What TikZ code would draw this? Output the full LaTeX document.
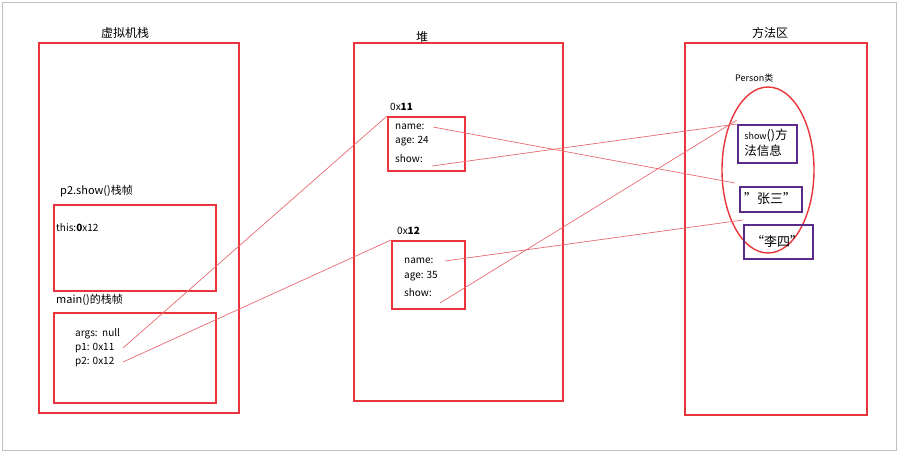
\documentclass[tikz,border=0pt]{standalone}
\usepackage{fontspec}
\setmainfont{Noto Sans CJK SC}
\usetikzlibrary{shapes.geometric}
\definecolor{rb}{HTML}{E8343A}
\definecolor{pb}{HTML}{5A2A8A}
\definecolor{ln}{HTML}{E86A72}
\tikzset{
 area/.style={draw=rb,line width=1.6pt,anchor=north west,inner sep=0pt},
 pbox/.style={draw=pb,line width=1.6pt,anchor=north west,inner sep=0pt,align=left},
 txt/.style={anchor=west,inner sep=0pt,font=\fontsize{10}{11}\selectfont},
 ttl/.style={inner sep=0pt,font=\fontsize{12}{13}\selectfont},
 link/.style={draw=ln,line width=0.7pt}
}
\begin{document}
\begin{tikzpicture}[x=1pt,y=-1pt]
\useasboundingbox (0,0) rectangle (898,452);
\draw[gray!50,line width=0.8pt] (2,2) rectangle (896,450);
% areas
\node[area,minimum width=200pt,minimum height=370pt] (stack) at (38,42) {};
\node[area,minimum width=209pt,minimum height=358pt] (heap) at (353,42) {};
\node[area,minimum width=182pt,minimum height=372pt] (meth) at (684,42) {};
\node[ttl] (t1) at (125,33) {虚拟机栈};
\node[ttl] (t2) at (422,37) {堆};
\node[ttl] (t3) at (770,33) {方法区};
% stack frames
\node[area,minimum width=162pt,minimum height=86pt] (f1) at (53,204) {};
\node[txt,font=\fontsize{11}{12}\selectfont] (f1l) at (60,191) {p2.show()栈帧};
\node[txt] (this) at (56,228) {this:\textbf{0}x12};
\node[area,minimum width=162pt,minimum height=90pt] (f2) at (53,312) {};
\node[txt,font=\fontsize{11}{12}\selectfont] (f2l) at (56,300) {main()的栈帧};
\node[txt] (args) at (75,334) {args:\ \ null};
\node[txt] (p1) at (75,348) {p1: 0x11};
\node[txt] (p2) at (75,362) {p2: 0x12};
\coordinate (p1e) at (123,348);
\coordinate (p2e) at (123,362);
% heap objects
\node[area,minimum width=77pt,minimum height=54pt] (o1) at (387,116) {};
\node[txt] (o1l) at (390,107) {0x\textbf{11}};
\node[txt] (o1a) at (395,127) {name:};
\node[txt] (o1b) at (395,141) {age: 24};
\node[txt] (o1c) at (395,159) {show:};
\coordinate (o1n) at (433,127);
\coordinate (o1s) at (432,166);
\node[area,minimum width=73pt,minimum height=68pt] (o2) at (391,240) {};
\node[txt] (o2l) at (397,231) {0x\textbf{12}};
\node[txt] (o2a) at (404,261) {name:};
\node[txt] (o2b) at (404,276) {age: 35};
\node[txt] (o2c) at (404,293) {show:};
\coordinate (o2n) at (445,261);
\coordinate (o2s) at (440,303);
% method area
\node[txt,font=\fontsize{9}{10}\selectfont] (pc) at (735,78) {Person类};
\node[draw=rb,line width=1.4pt,ellipse,minimum width=92pt,minimum height=166pt] (ell) at (768,170) {};
\node[pbox,minimum width=59pt,minimum height=38pt] (sb) at (737,124) {};
\node[inner sep=0pt,align=left,font=\fontsize{12.5}{16}\selectfont] (sbt) at (766,143) {{\fontsize{9}{10}\selectfont show}()方\\法信息};
\node[pbox,minimum width=62pt,minimum height=25pt] (zs) at (739,186) {};
\node[inner sep=0pt,font=\fontsize{13}{14}\selectfont] (zst) at (770,199) {"张三"};
\node[pbox,minimum width=69pt,minimum height=34pt] (ls) at (743,224) {};
\node[inner sep=0pt,font=\fontsize{13}{14}\selectfont] (lst) at (777,241) {“李四"};
% links
\draw[link] (p1e) -- (o1.north west);
\draw[link] (p2e) -- (o2.north west);
\draw[link] (o1n) -- (735,183);
\draw[link] (o1s) -- (sb.north west);
\draw[link] (o2s) -- ([yshift=4pt]sb.north west);
\draw[link] (o2n) -- ([yshift=4pt]ls.north west);
\end{tikzpicture}
\end{document}
